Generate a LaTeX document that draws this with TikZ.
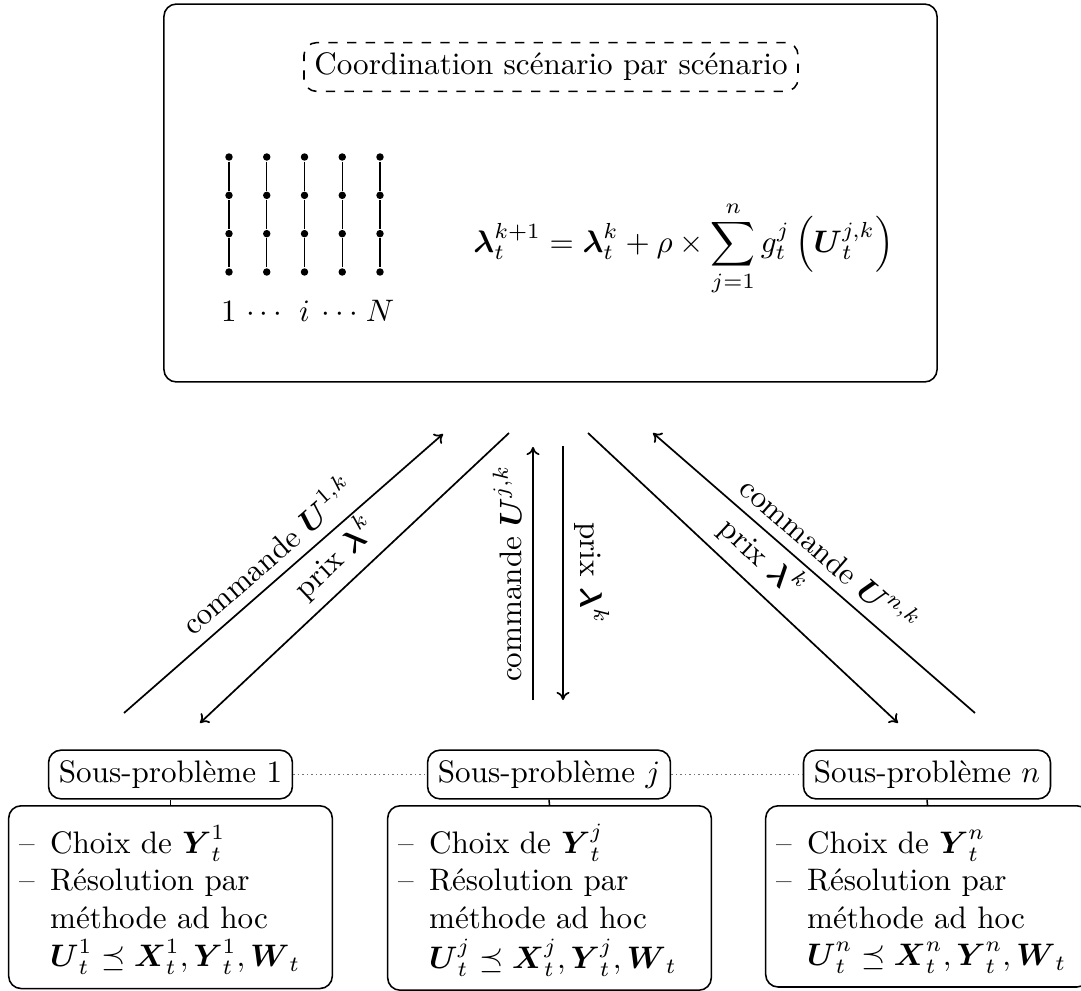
\documentclass[tikz,border=0pt]{standalone}
\usepackage{amsmath,amssymb}
\usetikzlibrary{arrows.meta}
\begin{document}
\begin{tikzpicture}[x=0.32154pt,y=-0.32154pt, line width=0.5pt,
  frame/.style={draw, rounded corners=4pt, minimum width=248.6pt, minimum height=121.5pt, inner sep=0pt},
  titlebox/.style={draw, dashed, rounded corners=4pt, inner sep=3.333pt},
  dot/.style={circle, fill, inner sep=0pt, minimum size=2.4pt},
  subprob/.style={draw, rounded corners=4pt, inner sep=3.333pt},
  detail/.style={draw, rounded corners=4pt, text width=97.4pt, align=left, inner xsep=3.333pt, inner ysep=3.333pt, anchor=north},
  flow/.style={-{To[length=2.6pt,width=4.2pt]}, line width=0.55pt},
  lbl/.style={midway, sloped, above},
  link/.style={densely dotted, line width=0.45pt, black!55}]
\useasboundingbox (0,0) rectangle (1081,990);
\clip (0,0) rectangle (1081,990);

% top coordination box
\node[frame] (coord) at (550.5,193) {};
\node[titlebox] (ttl) at (551,67) {Coordination scénario par scénario};

% scenario tree (N chains)
\foreach \i in {1,...,5}{
  \foreach \j in {1,...,4}{
    \node[dot] (d\i\j) at ({229+37.75*(\i-1)},{157+38.33*(\j-1)}) {};
  }
  \draw[line width=0.4pt] (d\i1) -- (d\i2) -- (d\i3) -- (d\i4);
}
\node[anchor=base] (l1) at (229,321) {$1$};
\node[anchor=base] (l2) at (266.75,321) {$\cdots$};
\node[anchor=base] (l3) at (304.5,321) {$i$};
\node[anchor=base] (l4) at (342.25,321) {$\cdots$};
\node[anchor=base] (l5) at (380,321) {$N$};

% update formula
\node[anchor=base] (eq) at (683.5,252) {$\displaystyle \boldsymbol{\lambda}_t^{k+1} = \boldsymbol{\lambda}_t^{k} + \rho \times \sum_{j=1}^{n} g_t^{j}\left(\boldsymbol{U}_t^{j,k}\right)$};

% arrows
\coordinate (a1s) at (124,713);
\coordinate (a1e) at (443,434);
\coordinate (b1s) at (509,433);
\coordinate (b1e) at (200,723);
\coordinate (a2s) at (533,700);
\coordinate (a2e) at (533,447);
\coordinate (b2s) at (563,446);
\coordinate (b2e) at (563,700);
\coordinate (b3s) at (588,433);
\coordinate (b3e) at (898,723);
\coordinate (a3s) at (975,713);
\coordinate (a3e) at (653,433);

\draw[flow] (a1s) -- (a1e) node[lbl] {commande $\boldsymbol{U}^{1,k}$};
\draw[flow] (b1s) -- (b1e) node[lbl] {prix $\boldsymbol{\lambda}^{k}$};
\draw[flow] (a2s) -- (a2e) node[lbl] {commande $\boldsymbol{U}^{j,k}$};
\draw[flow] (b2s) -- (b2e) node[lbl] {prix $\boldsymbol{\lambda}^{k}$};
\draw[flow] (b3s) -- (b3e) node[lbl] {prix $\boldsymbol{\lambda}^{k}$};
\draw[flow] (a3s) -- (a3e) node[lbl] {commande $\boldsymbol{U}^{n,k}$};

% sub-problems
\node[subprob] (sp1) at (170.5,774.5) {Sous-problème 1};
\node[subprob] (spj) at (549,774.5) {Sous-problème $j$};
\node[subprob] (spn) at (927,774.5) {Sous-problème $n$};
\draw[link] (sp1) -- (spj);
\draw[link] (spj) -- (spn);

\node[detail] (bx1) at (170.5,805) {\begin{tabular}{@{}l@{\hspace{5pt}}l@{}}
\rule{0pt}{12pt}-- & Choix de $\boldsymbol{Y}_t^{1}$\\
-- & Résolution par\\
 & méthode ad hoc\\
 & $\boldsymbol{U}_t^{1}\preceq \boldsymbol{X}_t^{1},\boldsymbol{Y}_t^{1},\boldsymbol{W}_t$
\end{tabular}};
\node[detail] (bxj) at (549.5,805) {\begin{tabular}{@{}l@{\hspace{5pt}}l@{}}
\rule{0pt}{12pt}-- & Choix de $\boldsymbol{Y}_t^{j}$\\
-- & Résolution par\\
 & méthode ad hoc\\
 & $\boldsymbol{U}_t^{j}\preceq \boldsymbol{X}_t^{j},\boldsymbol{Y}_t^{j},\boldsymbol{W}_t$
\end{tabular}};
\node[detail] (bxn) at (927.5,805) {\begin{tabular}{@{}l@{\hspace{5pt}}l@{}}
\rule{0pt}{12pt}-- & Choix de $\boldsymbol{Y}_t^{n}$\\
-- & Résolution par\\
 & méthode ad hoc\\
 & $\boldsymbol{U}_t^{n}\preceq \boldsymbol{X}_t^{n},\boldsymbol{Y}_t^{n},\boldsymbol{W}_t$
\end{tabular}};
\draw (sp1.south) -- (bx1.north);
\draw (spj.south) -- (bxj.north);
\draw (spn.south) -- (bxn.north);
\end{tikzpicture}
\end{document}
